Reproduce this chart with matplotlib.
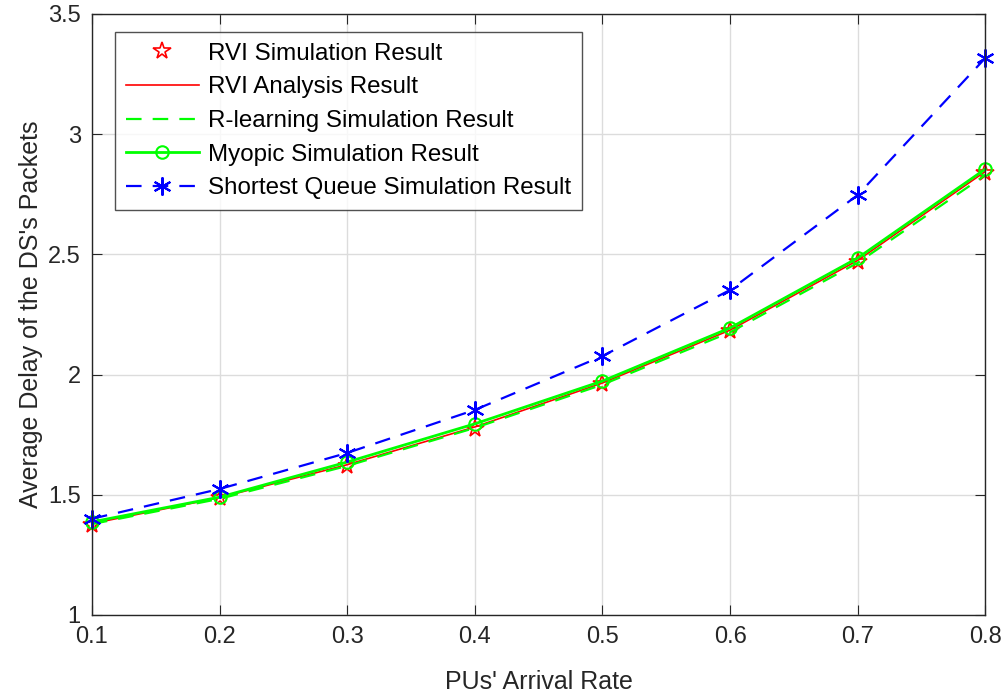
import matplotlib.pyplot as plt
import numpy as np

plt.rcParams['font.family'] = ['Liberation Sans', 'DejaVu Sans']

rate = [0.1, 0.2, 0.3, 0.4, 0.5, 0.6, 0.7, 0.8]
rvi_sim = [1.375, 1.485, 1.620, 1.775, 1.960, 2.180, 2.470, 2.840]
rvi_ana = [1.380, 1.488, 1.625, 1.782, 1.965, 2.185, 2.475, 2.845]
rlearn = [1.378, 1.483, 1.620, 1.778, 1.958, 2.176, 2.465, 2.830]
myopic = [1.387, 1.490, 1.636, 1.795, 1.973, 2.194, 2.485, 2.855]
shortest = [1.400, 1.524, 1.674, 1.853, 2.077, 2.352, 2.747, 3.317]

fig = plt.figure(figsize=(10.05, 6.98), dpi=100)
ax = fig.add_axes([0.0915, 0.119, 0.889, 0.861])

ax.plot(rate, rvi_sim, linestyle='none', marker='*', markersize=13,
        markerfacecolor='none', markeredgecolor='red', markeredgewidth=1.2,
        label='RVI Simulation Result', clip_on=False)
ax.plot(rate, rvi_ana, color='red', linewidth=1.2, label='RVI Analysis Result')
ax.plot(rate, rlearn, color='#00ff00', linestyle=(0, (7, 5)), linewidth=1.6,
        label='R-learning Simulation Result')
ax.plot(rate, myopic, color='#00ff00', linewidth=2, marker='o', markersize=9,
        markerfacecolor='none', markeredgewidth=1.5, label='Myopic Simulation Result',
        clip_on=False)
ax.plot(rate, shortest, color='blue', linestyle=(0, (7, 5)), linewidth=1.6,
        marker=(6, 2, 0), markersize=13, markeredgewidth=1.5,
        label='Shortest Queue Simulation Result', clip_on=False)

ax.set_xlim(0.1, 0.8)
ax.set_ylim(1, 3.5)
ax.set_xticks(rate)
ax.set_xticklabels(['0.1', '0.2', '0.3', '0.4', '0.5', '0.6', '0.7', '0.8'])
ax.set_yticks([1, 1.5, 2, 2.5, 3, 3.5])
ax.set_yticklabels(['1', '1.5', '2', '2.5', '3', '3.5'])
ax.grid(True, color='#dcdcdc', linewidth=1)
ax.set_axisbelow(True)
ax.tick_params(direction='in', length=7, labelsize=17, top=True, right=True,
               color='#262626', labelcolor='#262626', pad=8)
for s in ax.spines.values():
    s.set_color('#262626')
    s.set_linewidth(1)

ax.set_xlabel("PUs' Arrival Rate", fontsize=18, color='#262626', labelpad=16)
ax.set_ylabel("Average Delay of the DS's Packets", fontsize=18, color='#262626', labelpad=4)

leg = ax.legend(loc='upper left', bbox_to_anchor=(0.026, 0.97), fontsize=17.4,
                frameon=True, fancybox=False, edgecolor='#262626',
                handlelength=3.0, borderaxespad=0, labelspacing=0.48,
                handletextpad=0.4, borderpad=0.45)
leg.get_frame().set_linewidth(1)

plt.savefig('out.png', dpi=100)
